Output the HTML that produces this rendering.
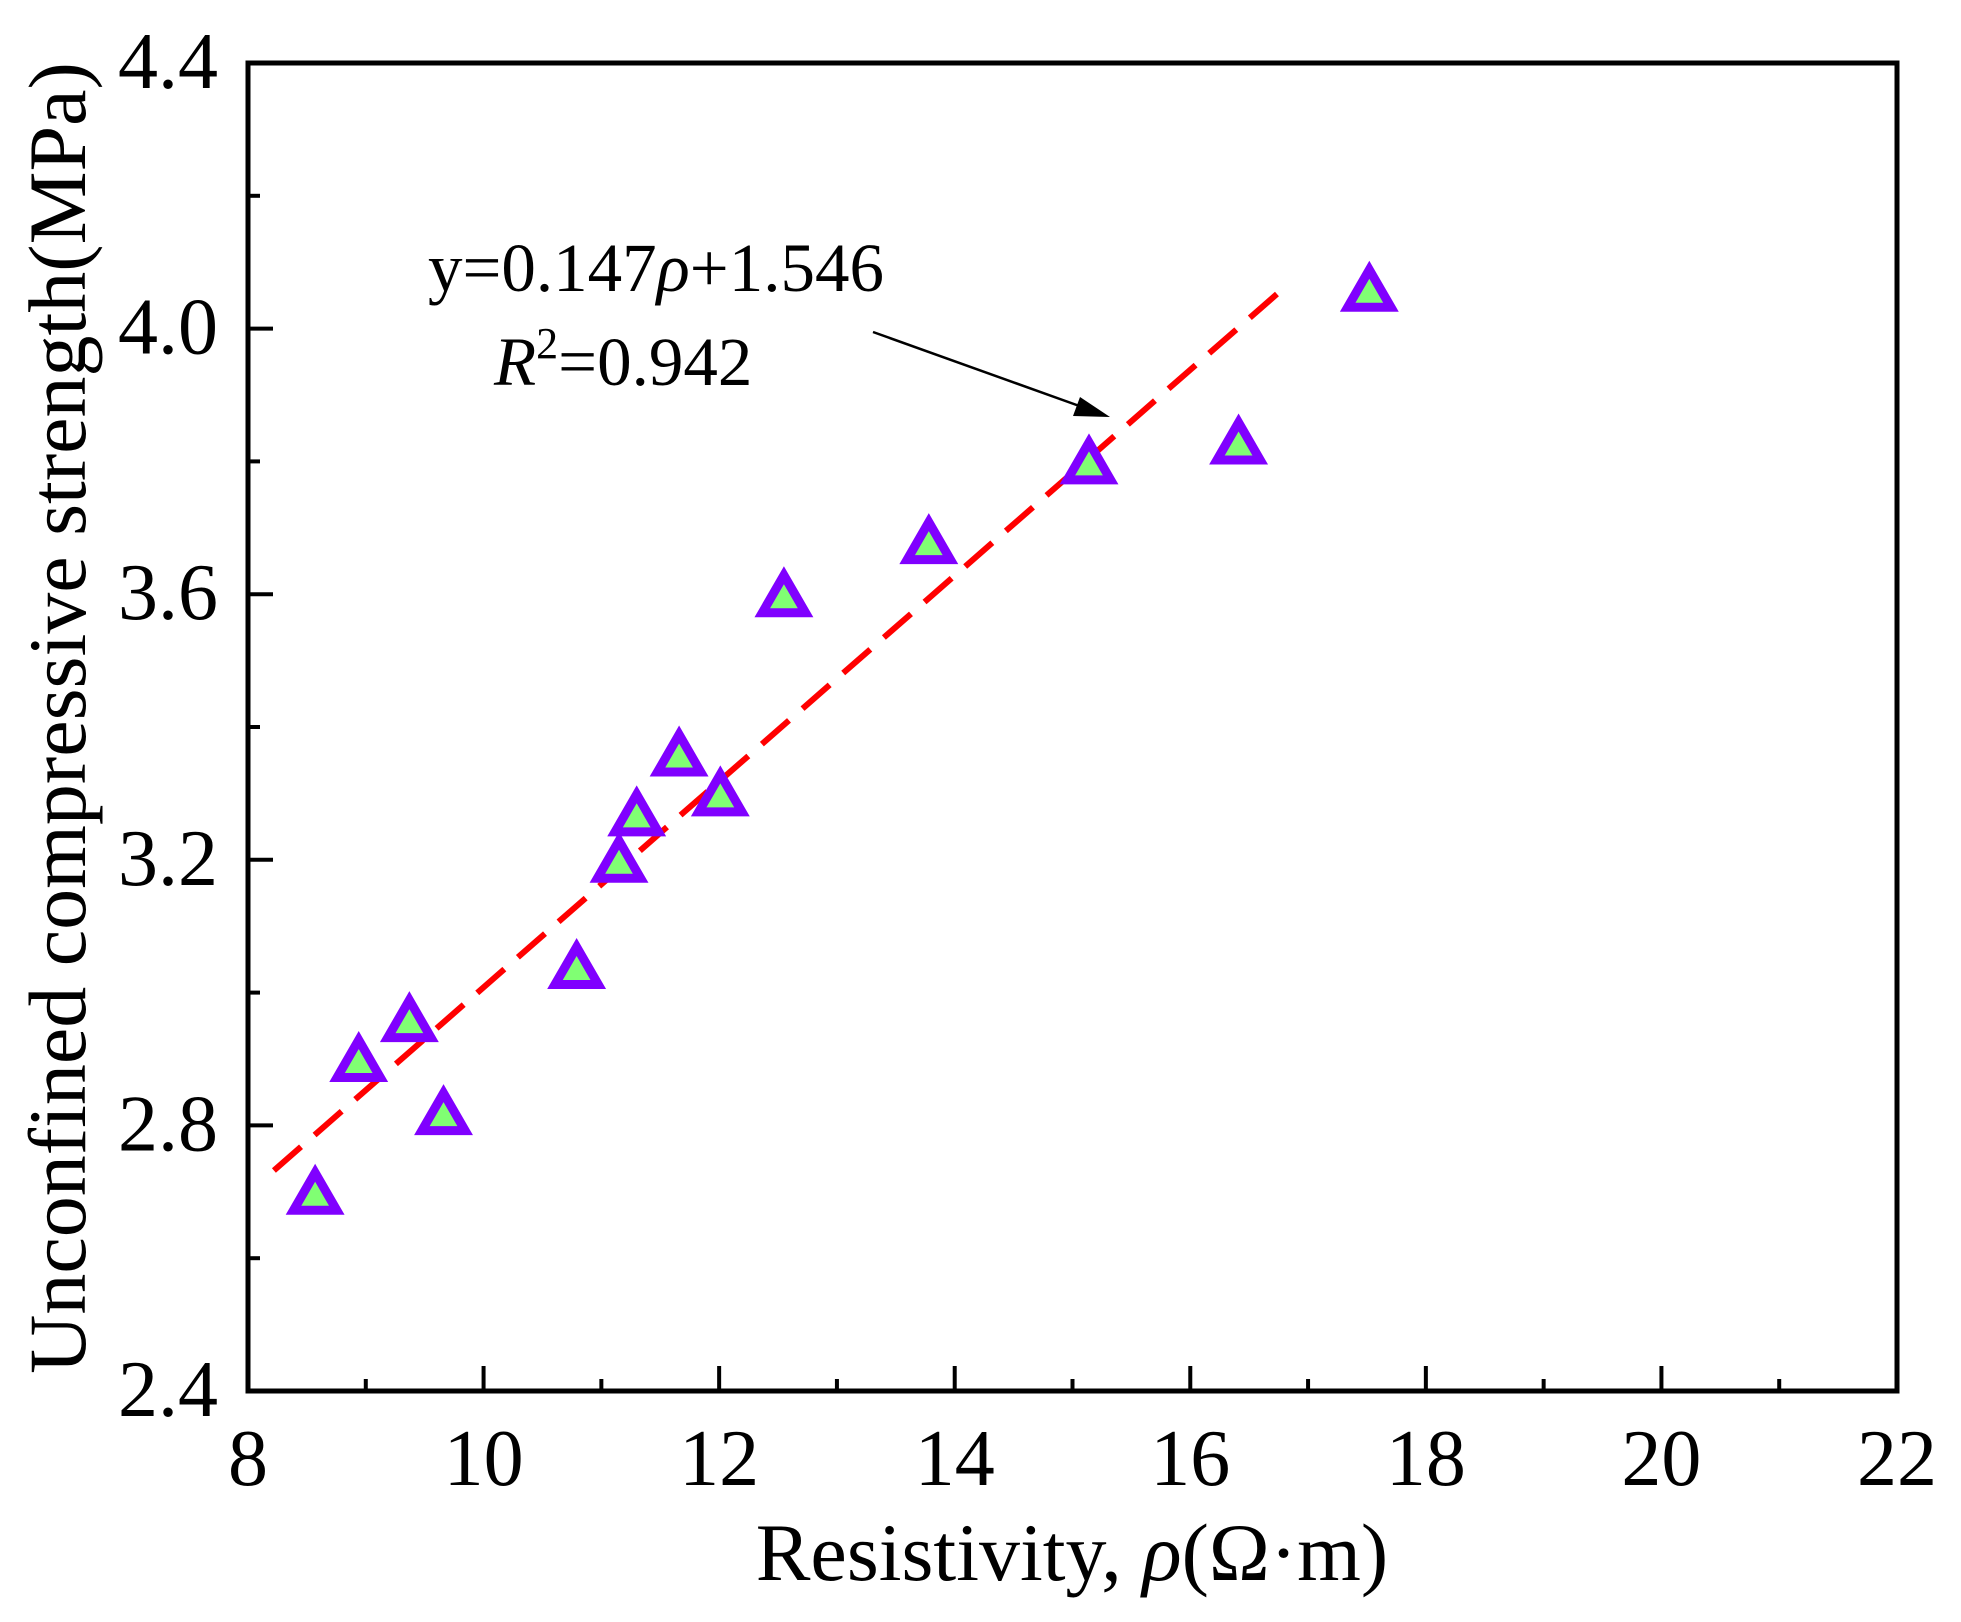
<!DOCTYPE html>
<html><head><meta charset="utf-8"><style>
body{margin:0;background:#fff}
svg{display:block;font-family:"Liberation Serif",serif}
</style></head><body>
<svg id="chart" width="1961" height="1622" viewBox="0 0 1961 1622" xmlns="http://www.w3.org/2000/svg">
<rect width="1961" height="1622" fill="#fff"/>
<g id="ticks"></g>
<g id="fit"></g>
<g id="points"></g>
<rect x="248" y="63" width="1649" height="1328" fill="none" stroke="#000" stroke-width="5"/>
<text x="428" y="291" font-size="69">y=0.147<tspan font-style="italic">ρ</tspan>+1.546</text>
<text x="494" y="385" font-size="69"><tspan font-style="italic">R</tspan><tspan font-size="44" dy="-27">2</tspan><tspan dy="27">=0.942</tspan></text>
<line x1="873" y1="332" x2="1085" y2="408" stroke="#000" stroke-width="2.5"/>
<polygon points="1110,417 1073,416 1080,397" fill="#000"/>
<text x="1072" y="1580" font-size="82" text-anchor="middle">Resistivity, <tspan font-style="italic">ρ</tspan>(Ω·m)</text>
<text transform="translate(85,718) rotate(-90)" font-size="82" text-anchor="middle">Unconfined compressive strength(MPa)</text>
</svg>
<script>
const xTicks=[8,10,12,14,16,18,20,22];
const yTicks=[2.4,2.8,3.2,3.6,4.0,4.4];
const yTickLabels=["2.4","2.8","3.2","3.6","4.0","4.4"];
const resistivity=[8.57,8.94,9.37,9.66,10.79,11.15,11.30,11.66,12.01,12.55,13.78,15.14,16.41,17.52];
const ucs=[2.70,2.90,2.96,2.82,3.04,3.20,3.27,3.36,3.30,3.60,3.68,3.80,3.83,4.06];
const fitSlope=0.155, fitIntercept=1.458;
const fitRange=[8.22,16.8];
const X0=248,X1=1897,Y0=1391,Y1=63;
const xs=v=>X0+(v-8)/(22-8)*(X1-X0);
const ys=v=>Y0-(v-2.4)/(4.4-2.4)*(Y0-Y1);
const NS="http://www.w3.org/2000/svg";
function mk(tag,attrs,parent){const e=document.createElementNS(NS,tag);for(const k in attrs)e.setAttribute(k,attrs[k]);parent.appendChild(e);return e;}
const tg=document.getElementById('ticks');
for(let v=8;v<=22.001;v+=1){
 const major=Math.abs(v/2-Math.round(v/2))<1e-6;
 const l=mk('line',{x1:xs(v),x2:xs(v),y1:Y0,y2:Y0-(major?25:12),stroke:'#000','stroke-width':4},tg);
 
 
}
xTicks.forEach(v=>{const t=mk('text',{x:xs(v),y:1485,'font-size':80,'text-anchor':'middle'},tg);t.textContent=v;
 
 });
for(let i=0;i<=10;i++){
 const v=2.4+i*0.2;const major=i%2===0;
 const l=mk('line',{x1:X0,x2:X0+(major?25:12),y1:ys(v),y2:ys(v),stroke:'#000','stroke-width':4},tg);
 
 
}
yTicks.forEach((v,i)=>{const t=mk('text',{x:218,y:ys(v)+25,'font-size':80,'text-anchor':'end'},tg);t.textContent=yTickLabels[i];
 
 });
const fl=mk('line',{x1:xs(fitRange[0]),y1:ys(fitSlope*fitRange[0]+fitIntercept),x2:xs(fitRange[1]),y2:ys(fitSlope*fitRange[1]+fitIntercept),stroke:'#ff0000','stroke-width':6,'stroke-dasharray':'36 18'},document.getElementById('fit'));


const pg=document.getElementById('points');
resistivity.forEach((r,i)=>{
 const cx=xs(r),cy=ys(ucs[i])+6;const R=25;
 const p=mk('polygon',{points:`${cx},${cy-R} ${cx+R*0.866},${cy+R*0.5} ${cx-R*0.866},${cy+R*0.5}`,fill:'#80ff73',stroke:'#8000ff','stroke-width':9,'stroke-linejoin':'miter'},pg);
 
 
});
</script>
</body></html>
